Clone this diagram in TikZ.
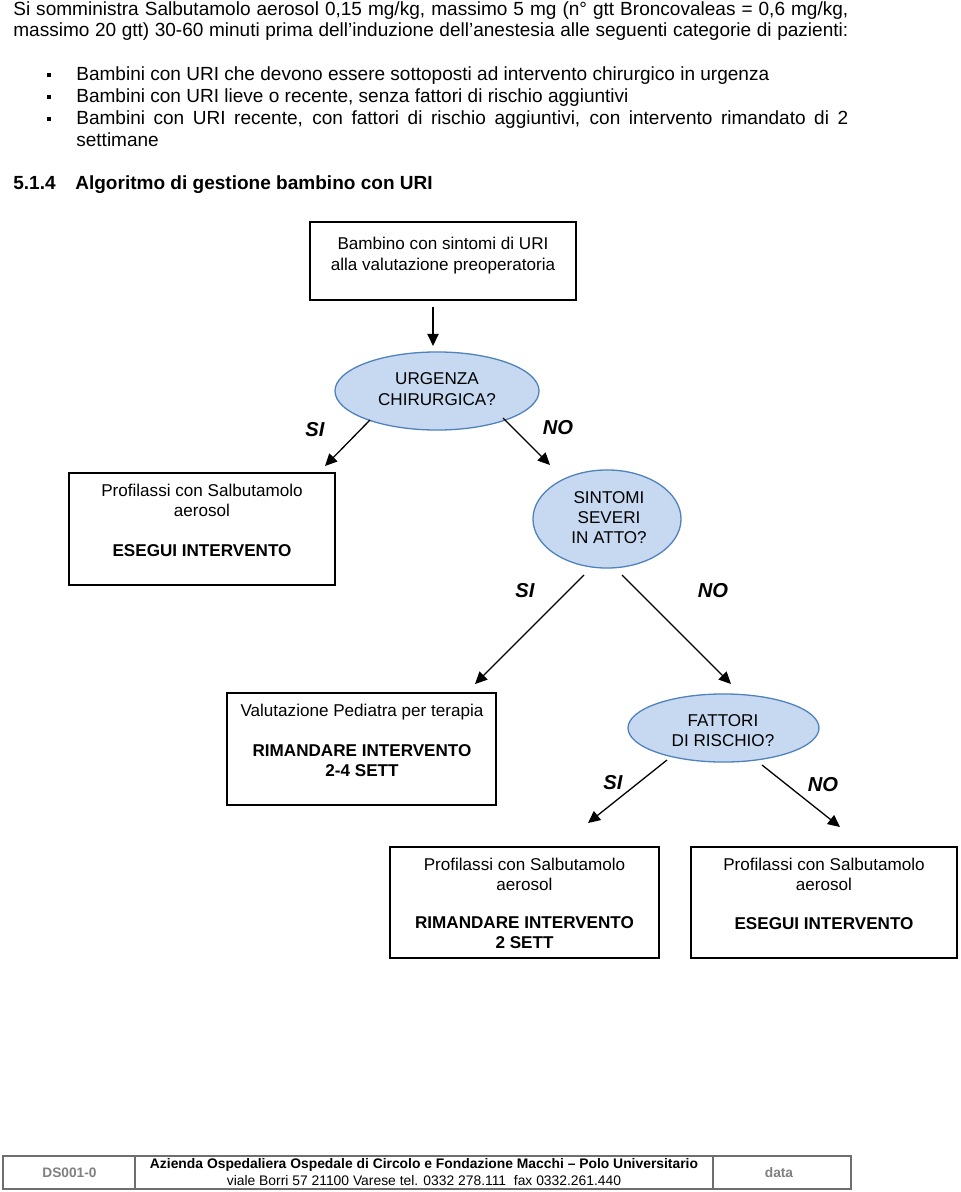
\documentclass[tikz,border=0pt]{standalone}
\usepackage{fontspec}
\setmainfont{Liberation Sans}
\usetikzlibrary{arrows.meta,shapes.geometric,calc}
\definecolor{efill}{HTML}{C6D9F1}
\definecolor{edraw}{HTML}{4F81BD}
\definecolor{fgray}{HTML}{808080}
\definecolor{tline}{HTML}{6E6E6E}
\begin{document}
\begin{tikzpicture}[x=0.62pt,y=-0.62pt,
  body/.style={inner sep=0pt,anchor=base west,font=\fontsize{11.8}{14}\selectfont},
  bodyb/.style={body,font=\fontsize{11.8}{14}\selectfont\bfseries},
  fc/.style={inner sep=0pt,anchor=base,font=\fontsize{10.6}{12.5}\selectfont},
  fcb/.style={fc,font=\fontsize{10.6}{12.5}\selectfont\bfseries},
  yn/.style={inner sep=0pt,font=\fontsize{12.5}{14}\selectfont\bfseries\itshape},
  box/.style={rectangle,draw=black,line width=1pt,inner sep=0pt,outer sep=0pt},
  dec/.style={ellipse,draw=edraw,line width=0.8pt,fill=efill,inner sep=0pt,outer sep=0pt},
  arr/.style={-{Triangle[length=7.5pt,width=7pt]},line width=0.8pt,black},
  bul/.style={rectangle,fill=black,inner sep=0pt,minimum size=2.8pt},
  cell/.style={rectangle,draw=tline,line width=0.9pt,inner sep=0pt,outer sep=0pt,minimum height=20.5pt},
  ftg/.style={inner sep=0pt,anchor=base,text=fgray,font=\fontsize{8.5}{10}\selectfont\bfseries},
  ftb/.style={inner sep=0pt,anchor=base,font=\fontsize{8.6}{10}\selectfont\bfseries},
  ftr/.style={inner sep=0pt,anchor=base,font=\fontsize{8.6}{10}\selectfont}]
\useasboundingbox (0,0) rectangle (960,1192);
\fill[white] (0,0) rectangle (960,1192);

% body text
\node[body] (p1) at (13,16) {\hbox to 517.7pt{Si somministra Salbutamolo aerosol 0,15 mg/kg, massimo 5 mg (n° gtt Broncovaleas = 0,6 mg/kg,}};
\node[body] (p2) at (13,37) {\hbox to 517.7pt{massimo 20 gtt) 30-60 minuti prima dell’induzione dell’anestesia alle seguenti categorie di pazienti:}};

\node[bul] (u1) at (49,75) {};
\node[bul] (u2) at (49,97) {};
\node[bul] (u3) at (49,119) {};
\node[body] (l1) at (76,81) {Bambini con URI che devono essere sottoposti ad intervento chirurgico in urgenza};
\node[body] (l2) at (76,103) {Bambini con URI lieve o recente, senza fattori di rischio aggiuntivi};
\node[body] (l3) at (76,125) {\hbox to 478.6pt{Bambini con URI recente, con fattori di rischio aggiuntivi, con intervento rimandato di 2}};
\node[body] (l3b) at (76,147) {settimane};

\node[bodyb] (h1) at (13,190) {5.1.4};
\node[bodyb] (h2) at (75,190) {Algoritmo di gestione bambino con URI};

% flowchart shapes
\node[box,minimum width=164.9pt,minimum height=48.4pt] (b1) at (443,261) {};
\node[dec,minimum width=126.5pt,minimum height=48.4pt] (e1) at (437,391) {};
\node[box,minimum width=164.9pt,minimum height=69.4pt] (b2) at (202,529) {};
\node[dec,minimum width=91.8pt,minimum height=60.8pt] (e2) at (607,519) {};
\node[box,minimum width=166.8pt,minimum height=69.4pt] (b3) at (361.5,749) {};
\node[dec,minimum width=118.4pt,minimum height=42.2pt] (e3) at (723.5,728) {};
\node[box,minimum width=166.8pt,minimum height=68.8pt] (b4) at (524.5,902.5) {};
\node[box,minimum width=164.9pt,minimum height=68.8pt] (b5) at (824,902.5) {};

% texts
\node[fc] (t1a) at (443,250) {Bambino con sintomi di URI};
\node[fc] (t1b) at (443,271) {alla valutazione preoperatoria};
\node[fc] (te1a) at (437,384) {URGENZA};
\node[fc] (te1b) at (437,405) {CHIRURGICA?};
\node[fc] (t2a) at (202,496) {Profilassi con Salbutamolo};
\node[fc] (t2b) at (202,516) {aerosol};
\node[fcb] (t2c) at (202,556) {ESEGUI INTERVENTO};
\node[fc] (te2a) at (609,503) {SINTOMI};
\node[fc] (te2b) at (609,523) {SEVERI};
\node[fc] (te2c) at (609,543) {IN ATTO?};
\node[fc] (t3a) at (362,716) {Valutazione Pediatra per terapia};
\node[fcb] (t3b) at (362,756) {RIMANDARE INTERVENTO};
\node[fcb] (t3c) at (362,776) {2-4 SETT};
\node[fc] (te3a) at (723,726) {FATTORI};
\node[fc] (te3b) at (723,746) {DI RISCHIO?};
\node[fc] (t4a) at (524.5,870) {Profilassi con Salbutamolo};
\node[fc] (t4b) at (524.5,890) {aerosol};
\node[fcb] (t4c) at (524.5,928) {RIMANDARE INTERVENTO};
\node[fcb] (t4d) at (524.5,948) {2 SETT};
\node[fc] (t5a) at (824,870) {Profilassi con Salbutamolo};
\node[fc] (t5b) at (824,890) {aerosol};
\node[fcb] (t5c) at (824,929) {ESEGUI INTERVENTO};

% yes/no labels
\node[yn] (s1) at (315,430) {SI};
\node[yn] (n1) at (558,428) {NO};
\node[yn] (s2) at (525,591) {SI};
\node[yn] (n2) at (713,591) {NO};
\node[yn] (s3) at (613,783) {SI};
\node[yn] (n3) at (823,785) {NO};

% connectors
\draw[arr] ($(b1.south)+(-10,7)$) -- ($(e1.north)+(-4,-6)$);
\draw[arr] ($(e1)+(-67,29)$) -- ($(b2.north east)+(-10,-7)$);
\draw[arr] ($(e1)+(66,27)$) -- ($(e2)+(-57,-54)$);
\draw[arr] ($(e2)+(-23,56)$) -- ($(b3.north east)+(-21,-9)$);
\draw[arr] ($(e2)+(15,56)$) -- ($(e3)+(7.5,-44)$);
\draw[arr] ($(e3)+(-56.5,32)$) -- ($(b4.north)+(63.5,-24)$);
\draw[arr] ($(e3)+(38.5,37)$) -- ($(b5.north)+(16,-20)$);

% footer table
\node[cell,minimum width=81.8pt] (c1) at (69,1172.5) {};
\node[cell,minimum width=358.4pt] (c2) at (424,1172.5) {};
\node[cell,minimum width=85.6pt] (c3) at (782,1172.5) {};
\node[ftg] (f1) at (69.5,1177) {DS001-0};
\node[ftb] (f2) at (424,1168) {Azienda Ospedaliera Ospedale di Circolo e Fondazione Macchi – Polo Universitario};
\node[ftr] (f3) at (424,1185) {viale Borri 57 21100 Varese tel. 0332 278.111\ \ fax 0332.261.440};
\node[ftg] (f4) at (779,1177) {data};
\end{tikzpicture}
\end{document}
